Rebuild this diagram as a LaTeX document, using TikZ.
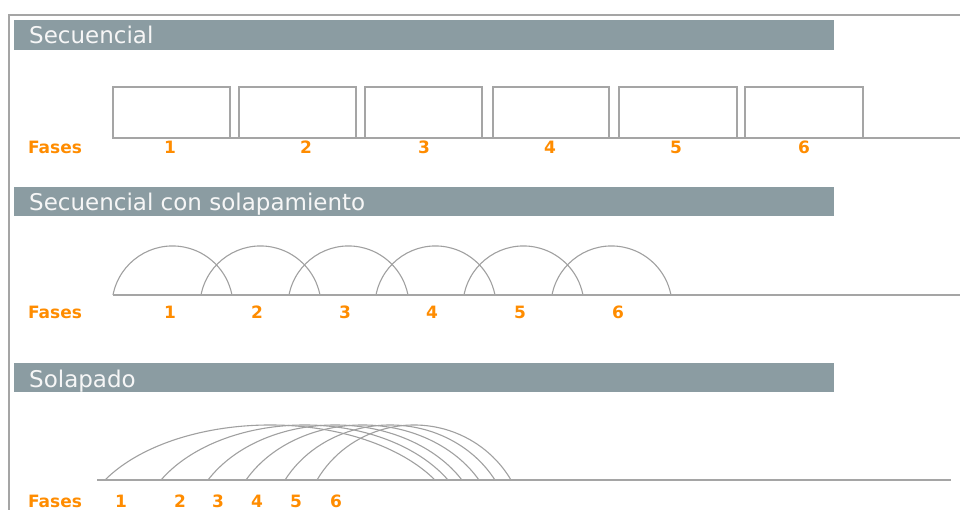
\documentclass[tikz,border=0pt]{standalone}
\usepackage{fontspec}
\setmainfont{DejaVu Sans}
\usepackage{tikz}
\usetikzlibrary{positioning}
\usepackage{xcolor}
\definecolor{barcolor}{RGB}{139,156,162}
\definecolor{linegray}{RGB}{165,165,165}
\definecolor{arcgray}{RGB}{160,160,160}
\definecolor{fasecolor}{RGB}{255,140,0}
\definecolor{titletext}{RGB}{246,246,246}

\begin{document}
\begin{tikzpicture}[x=1pt, y=-1pt,
    header/.style={fill=barcolor},
    title/.style={anchor=base west, inner sep=0pt, text=titletext, font=\fontsize{23}{27}\selectfont},
    fase/.style={anchor=base, inner sep=0pt, text=fasecolor, font=\fontsize{17}{20}\selectfont\bfseries},
    caja/.style={draw=linegray, line width=1.5pt},
    base/.style={draw=linegray, line width=1.5pt},
    arco/.style={draw=arcgray, line width=1.1pt}]
        \useasboundingbox (0,0) rectangle (960,510);

        % Frame
        \draw[linegray, line width=1.5pt] (9,510) -- (9,15) -- (960,15);

        % Secuencial
        \fill[header] (14,20) rectangle (834,50);
        \node[title] (tit1) at (29,44) {Secuencial};
        \draw[caja] (113,87) rectangle (230,138);
        \draw[caja] (239,87) rectangle (356,138);
        \draw[caja] (365,87) rectangle (482,138);
        \draw[caja] (493,87) rectangle (609,138);
        \draw[caja] (619,87) rectangle (737,138);
        \draw[caja] (745,87) rectangle (863,138);
        \draw[base] (113,138) -- (960,138);
        \node[fase] (fa1) at (55,154) {Fases};
        \node[fase] (a1) at (170,154) {1};
        \node[fase] (a2) at (306,154) {2};
        \node[fase] (a3) at (424,154) {3};
        \node[fase] (a4) at (550,154) {4};
        \node[fase] (a5) at (676,154) {5};
        \node[fase] (a6) at (804,154) {6};

        % Secuencial con solapamiento
        \fill[header] (14,187) rectangle (834,216);
        \node[title] (tit2) at (29,211) {Secuencial con solapamiento};
        \draw[arco] (113,295) arc[start angle=191, end angle=349, radius=60.6];
        \draw[arco] (201,295) arc[start angle=191, end angle=349, radius=60.6];
        \draw[arco] (289,295) arc[start angle=191, end angle=349, radius=60.6];
        \draw[arco] (376,295) arc[start angle=191, end angle=349, radius=60.6];
        \draw[arco] (464,295) arc[start angle=191, end angle=349, radius=60.6];
        \draw[arco] (552,295) arc[start angle=191, end angle=349, radius=60.6];
        \draw[base] (113,295) -- (960,295);
        \node[fase] (fb1) at (55,319) {Fases};
        \node[fase] (b1) at (170,319) {1};
        \node[fase] (b2) at (257,319) {2};
        \node[fase] (b3) at (345,319) {3};
        \node[fase] (b4) at (432,319) {4};
        \node[fase] (b5) at (520,319) {5};
        \node[fase] (b6) at (618,319) {6};

        % Solapado
        \fill[header] (14,363) rectangle (834,392);
        \node[title] (tit3) at (29,387) {Solapado};
        \draw[arco] (105,480) arc[start angle=210, end angle=330, x radius=190.5, y radius=110];
        \draw[arco] (161,480) arc[start angle=210, end angle=330, x radius=165.7, y radius=110];
        \draw[arco] (208,480) arc[start angle=210, end angle=330, x radius=146.6, y radius=110];
        \draw[arco] (246,480) arc[start angle=210, end angle=330, x radius=134.5, y radius=110];
        \draw[arco] (285,480) arc[start angle=210, end angle=330, x radius=121.2, y radius=110];
        \draw[arco] (317,480) arc[start angle=210, end angle=330, x radius=112.0, y radius=110];
        \draw[base] (97,480) -- (951,480);
        \node[fase] (fc1) at (55,507) {Fases};
        \node[fase] (c1) at (121,507) {1};
        \node[fase] (c2) at (180,507) {2};
        \node[fase] (c3) at (218,507) {3};
        \node[fase] (c4) at (257,507) {4};
        \node[fase] (c5) at (296,507) {5};
        \node[fase] (c6) at (336,507) {6};
    \end{tikzpicture}
\end{document}
